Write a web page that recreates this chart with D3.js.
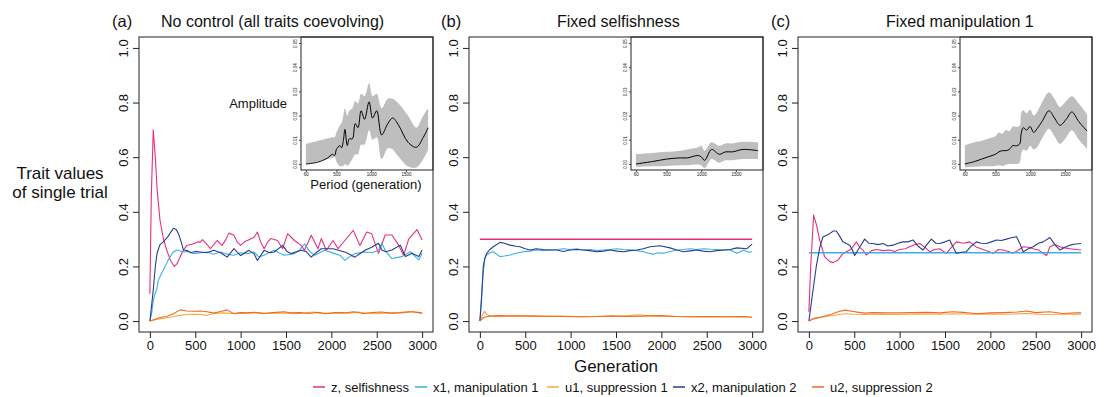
<!DOCTYPE html>
<html>
<head>
<meta charset="utf-8">
<script src="https://cdn.jsdelivr.net/npm/d3@7"></script>
<style>
  body { margin: 0; background: #fff; }
  text { font-family: "Liberation Sans", Arial, sans-serif; fill: #111; }
</style>
</head>
<body>
<script>
// ---- data: [generation, trait value] ----
let seriesNames = ['z, selfishness', 'x1, manipulation 1', 'u1, suppression 1', 'x2, manipulation 2', 'u2, suppression 2'];
let seriesColors = ['#e5307e', '#3caee3', '#f6a944', '#283d8f', '#f06a1f'];
let panelLabels = ['(a)', '(b)', '(c)'];
let panelTitles = ['No control (all traits coevolving)', 'Fixed selfishness', 'Fixed manipulation 1'];
let genTicks = [0, 500, 1000, 1500, 2000, 2500, 3000];
let valTicks = [0, 0.2, 0.4, 0.6, 0.8, 1.0];
let periodTicks = [60, 500, 1000, 1500];
let ampTicks = [0, 0.01, 0.02, 0.03, 0.04, 0.05];

// panel (a)
let aZ = [[0,0.10],[15,0.45],[37,0.70],[60,0.60],[80,0.48],[111,0.37],[150,0.30],[185,0.26],[230,0.22],[270,0.20],[300,0.21],[333,0.235],[370,0.26],[407,0.277],[481,0.283],[530,0.29],[555,0.289],[580,0.298],[630,0.28],[667,0.265],[741,0.295],[796,0.277],[840,0.30],[870,0.322],[926,0.314],[960,0.29],[1000,0.277],[1040,0.29],[1074,0.295],[1148,0.307],[1185,0.326],[1220,0.29],[1259,0.265],[1300,0.29],[1333,0.302],[1407,0.295],[1463,0.265],[1518,0.32],[1593,0.295],[1667,0.277],[1704,0.259],[1778,0.314],[1852,0.265],[1889,0.302],[1944,0.259],[2019,0.295],[2074,0.265],[2148,0.295],[2241,0.332],[2315,0.277],[2389,0.326],[2444,0.32],[2519,0.248],[2593,0.315],[2667,0.315],[2741,0.278],[2796,0.24],[2852,0.30],[2944,0.335],[3000,0.297]];
let aX1 = [[0,0],[20,0.03],[37,0.076],[56,0.10],[74,0.114],[93,0.149],[130,0.176],[148,0.186],[204,0.225],[250,0.25],[296,0.26],[370,0.253],[420,0.255],[481,0.247],[560,0.25],[630,0.253],[700,0.245],[778,0.253],[850,0.245],[926,0.241],[1000,0.25],[1074,0.247],[1148,0.253],[1200,0.235],[1259,0.241],[1310,0.25],[1370,0.259],[1420,0.25],[1481,0.241],[1593,0.247],[1650,0.26],[1704,0.283],[1760,0.255],[1815,0.241],[1926,0.259],[2037,0.247],[2100,0.24],[2148,0.222],[2200,0.235],[2259,0.247],[2370,0.253],[2450,0.25],[2519,0.26],[2556,0.285],[2600,0.255],[2667,0.229],[2778,0.236],[2870,0.254],[2963,0.224],[3000,0.248]];
let aU1 = [[0,0],[50,0.004],[100,0.008],[185,0.012],[259,0.016],[333,0.021],[407,0.024],[481,0.025],[555,0.024],[630,0.021],[704,0.028],[800,0.03],[900,0.028],[1000,0.03],[1100,0.029],[1200,0.031],[1300,0.028],[1400,0.03],[1500,0.029],[1600,0.027],[1700,0.03],[1800,0.033],[1900,0.028],[2000,0.03],[2100,0.031],[2200,0.029],[2300,0.033],[2400,0.028],[2500,0.027],[2600,0.03],[2700,0.029],[2800,0.03],[2900,0.036],[3000,0.027]];
let aX2 = [[0,0],[20,0.06],[37,0.114],[60,0.2],[80,0.25],[111,0.28],[148,0.29],[200,0.31],[259,0.34],[290,0.335],[315,0.32],[345,0.29],[370,0.26],[407,0.259],[450,0.25],[500,0.255],[555,0.253],[630,0.25],[704,0.259],[780,0.25],[852,0.234],[926,0.265],[1000,0.24],[1093,0.259],[1150,0.245],[1185,0.222],[1259,0.259],[1320,0.25],[1370,0.253],[1463,0.277],[1510,0.255],[1556,0.247],[1667,0.259],[1720,0.255],[1778,0.234],[1830,0.25],[1889,0.265],[2019,0.265],[2148,0.253],[2200,0.245],[2259,0.234],[2370,0.259],[2444,0.27],[2519,0.285],[2556,0.26],[2600,0.254],[2667,0.26],[2760,0.278],[2815,0.236],[2889,0.248],[2963,0.236],[3000,0.26]];
let aU2 = [[0,0],[50,0.006],[111,0.013],[185,0.017],[259,0.027],[333,0.041],[407,0.037],[481,0.036],[555,0.037],[630,0.034],[704,0.029],[780,0.035],[852,0.041],[926,0.027],[1000,0.031],[1074,0.03],[1148,0.032],[1250,0.028],[1350,0.031],[1481,0.034],[1550,0.03],[1650,0.031],[1750,0.028],[1850,0.032],[1950,0.027],[2050,0.031],[2150,0.03],[2250,0.034],[2350,0.028],[2450,0.031],[2550,0.033],[2650,0.029],[2750,0.031],[2850,0.034],[2950,0.032],[3000,0.03]];

// panel (b)
let bZ = [[0,0.3],[3000,0.3]];
let bX1 = [[0,0],[18,0.09],[37,0.18],[55,0.23],[74,0.242],[110,0.25],[147,0.254],[221,0.236],[270,0.238],[331,0.242],[400,0.248],[478,0.254],[550,0.256],[625,0.26],[700,0.258],[772,0.26],[850,0.262],[919,0.265],[993,0.262],[1066,0.265],[1140,0.26],[1213,0.262],[1290,0.258],[1360,0.26],[1430,0.262],[1508,0.265],[1580,0.262],[1655,0.26],[1730,0.258],[1802,0.254],[1860,0.248],[1912,0.245],[1960,0.25],[2022,0.248],[2100,0.255],[2169,0.26],[2240,0.262],[2317,0.265],[2390,0.262],[2464,0.265],[2540,0.263],[2611,0.262],[2690,0.26],[2758,0.26],[2833,0.248],[2906,0.26],[2960,0.252],[3000,0.254]];
let bU1 = [[0,0],[25,0.02],[50,0.036],[75,0.026],[110,0.018],[200,0.016],[350,0.019],[500,0.018],[700,0.017],[900,0.018],[1100,0.016],[1300,0.017],[1500,0.018],[1650,0.02],[1750,0.023],[1850,0.02],[2000,0.018],[2200,0.017],[2400,0.016],[2600,0.017],[2800,0.016],[3000,0.015]];
let bX2 = [[0,0],[18,0.077],[37,0.199],[55,0.23],[74,0.248],[110,0.262],[147,0.272],[221,0.288],[270,0.285],[331,0.278],[400,0.274],[441,0.272],[500,0.265],[552,0.26],[620,0.265],[699,0.262],[770,0.26],[846,0.26],[920,0.255],[993,0.26],[1070,0.262],[1140,0.26],[1210,0.258],[1287,0.254],[1360,0.256],[1434,0.26],[1510,0.256],[1582,0.254],[1650,0.258],[1729,0.26],[1800,0.265],[1876,0.272],[1986,0.276],[2096,0.268],[2170,0.26],[2244,0.254],[2320,0.257],[2391,0.26],[2460,0.256],[2538,0.254],[2610,0.258],[2685,0.26],[2760,0.262],[2833,0.268],[2943,0.265],[3000,0.282]];
let bU2 = [[0,0],[30,0.01],[60,0.015],[110,0.018],[200,0.02],[350,0.019],[500,0.019],[700,0.018],[900,0.017],[1100,0.016],[1300,0.017],[1450,0.019],[1600,0.017],[1800,0.018],[2000,0.02],[2150,0.017],[2300,0.016],[2500,0.017],[2700,0.016],[2900,0.017],[3000,0.014]];

// panel (c)
let cZ = [[0,0.034],[20,0.2],[52,0.388],[85,0.35],[118,0.297],[173,0.236],[220,0.22],[265,0.214],[320,0.223],[370,0.245],[412,0.254],[470,0.265],[522,0.29],[560,0.27],[596,0.26],[633,0.242],[690,0.258],[743,0.262],[820,0.258],[890,0.26],[945,0.255],[1000,0.262],[1060,0.265],[1110,0.272],[1170,0.28],[1221,0.284],[1280,0.27],[1331,0.254],[1390,0.262],[1441,0.265],[1515,0.248],[1570,0.27],[1625,0.29],[1700,0.285],[1772,0.29],[1850,0.27],[1920,0.262],[1980,0.255],[2030,0.248],[2090,0.262],[2140,0.26],[2200,0.255],[2251,0.248],[2310,0.26],[2361,0.272],[2420,0.27],[2471,0.265],[2530,0.26],[2582,0.248],[2620,0.24],[2656,0.272],[2710,0.28],[2767,0.272],[2820,0.268],[2877,0.265],[2940,0.262],[3000,0.26]];
let cX1 = [[0,0.25],[3000,0.25]];
let cU1 = [[0,0],[50,0.01],[150,0.015],[300,0.022],[400,0.027],[500,0.025],[650,0.024],[800,0.025],[1000,0.024],[1200,0.026],[1400,0.025],[1600,0.027],[1800,0.025],[2000,0.026],[2200,0.025],[2400,0.028],[2600,0.024],[2800,0.025],[3000,0.025]];
let cX2 = [[0,0],[40,0.1],[81,0.199],[120,0.27],[155,0.308],[228,0.32],[270,0.33],[302,0.33],[340,0.31],[375,0.29],[449,0.278],[480,0.26],[504,0.24],[560,0.27],[614,0.3],[660,0.285],[706,0.284],[760,0.28],[817,0.284],[870,0.275],[927,0.278],[980,0.285],[1037,0.29],[1090,0.29],[1147,0.297],[1200,0.275],[1258,0.26],[1300,0.28],[1350,0.3],[1400,0.285],[1441,0.284],[1500,0.29],[1552,0.297],[1590,0.27],[1625,0.248],[1680,0.252],[1736,0.254],[1790,0.275],[1846,0.29],[1900,0.285],[1957,0.284],[2010,0.29],[2067,0.297],[2120,0.295],[2177,0.3],[2230,0.305],[2288,0.309],[2330,0.28],[2361,0.254],[2420,0.265],[2471,0.272],[2530,0.285],[2582,0.29],[2656,0.306],[2710,0.28],[2767,0.26],[2820,0.27],[2877,0.278],[2940,0.282],[3000,0.284]];
let cU2 = [[0,0],[50,0.008],[150,0.016],[250,0.025],[330,0.035],[400,0.04],[470,0.036],[550,0.032],[620,0.029],[700,0.031],[850,0.03],[1000,0.03],[1150,0.031],[1300,0.032],[1450,0.03],[1580,0.034],[1700,0.032],[1850,0.027],[2000,0.03],[2150,0.031],[2300,0.033],[2400,0.037],[2500,0.031],[2650,0.034],[2800,0.028],[2950,0.03],[3000,0.03]];

// insets: amplitude spectrum, mean and band
let aPeriod = [60,225,370,440,475,500,550,575,600,622,657,685,730,770,810,855,905,970,1020,1080,1150,1240,1310,1395,1530,1650,1750,1820];
let aMean   = [0,0.0007,0.0024,0.004,0.0035,0.006,0.0076,0.0067,0.0097,0.0143,0.0076,0.0104,0.0104,0.0167,0.015,0.022,0.0185,0.0257,0.019,0.022,0.012,0.0167,0.019,0.016,0.009,0.0069,0.011,0.015];
let aLower  = [0,0.001,0.002,0.0025,0.003,0.001,-0.001,-0.001,-0.0007,0,-0.0007,0,0.002,0.004,0.004,0.008,0.008,0.014,0.01,0.011,0.002,0.0065,0.006,0.003,-0.001,-0.0015,0.002,0.006];
let aUpper  = [0.0083,0.0095,0.0105,0.011,0.011,0.013,0.016,0.017,0.02,0.023,0.02,0.022,0.023,0.026,0.025,0.029,0.028,0.0335,0.028,0.029,0.023,0.027,0.027,0.025,0.02,0.015,0.02,0.023];

let bPeriod = [60,300,500,700,800,950,1000,1050,1150,1260,1350,1450,1600,1820];
let bMean   = [0,0.001,0.002,0.0025,0.0025,0.0035,0.003,0.0015,0.006,0.004,0.005,0.005,0.006,0.0055];
let bLower  = [-0.0012,-0.001,-0.0008,-0.0005,-0.0005,-0.0002,-0.0005,-0.0018,0.002,0.0005,0.0015,0.0015,0.002,0.002];
let bUpper  = [0.004,0.0045,0.005,0.0055,0.006,0.0068,0.0075,0.0055,0.009,0.0075,0.0085,0.0085,0.0092,0.009];

let cPeriod = [60,200,300,400,500,550,600,650,700,750,800,850,870,900,950,1000,1050,1100,1180,1270,1350,1430,1520,1600,1700,1820];
let cMean   = [0,0.001,0.002,0.003,0.004,0.005,0.0055,0.0055,0.006,0.0076,0.0075,0.0083,0.0125,0.015,0.014,0.0155,0.013,0.0146,0.018,0.022,0.019,0.016,0.0185,0.0215,0.0175,0.0136];
let cLower  = [-0.0014,-0.0012,-0.001,-0.001,-0.0008,-0.0005,-0.0008,-0.0003,0,0,0,0.0005,0.004,0.006,0.0055,0.0075,0.006,0.0069,0.011,0.0146,0.0115,0.0083,0.011,0.0139,0.01,0.0062];
let cUpper  = [0.0077,0.009,0.0095,0.0105,0.0115,0.013,0.0125,0.014,0.0135,0.0155,0.0153,0.0158,0.021,0.0222,0.021,0.0225,0.02,0.0215,0.026,0.0297,0.027,0.0236,0.026,0.028,0.025,0.0205];

let panelSeries = [[aZ, aX1, aU1, aX2, aU2], [bZ, bX1, bU1, bX2, bU2], [cZ, cX1, cU1, cX2, cU2]];
let insetData = [[aPeriod, aMean, aLower, aUpper], [bPeriod, bMean, bLower, bUpper], [cPeriod, cMean, cLower, cUpper]];

// ---- layout ----
let width = 1107;
let height = 397;
let panelLeft = [139, 469, 798];
let labelX = [112, 441, 771];
let titleX = [161, 557, 886];
let boxW = 294, boxTop = 37, boxBottom = 332;
let insetOffset = 162, insetBottom = 170;

let svg = d3.select("body").append("svg")
  .attr("width", width)
  .attr("height", height);

function drawPanel(i) {
  let left = panelLeft[i];
  let x = d3.scaleLinear().domain([-120, 3120]).range([left, left + boxW]);
  let y = d3.scaleLinear().domain([-0.04, 1.04]).range([boxBottom, boxTop]);
  let g = svg.append('g');

  let line = d3.line().x(d => x(d[0])).y(d => y(d[1]));
  panelSeries[i].forEach((s, k) => {
    g.append('path')
      .attr('d', line(s))
      .attr('fill', 'none')
      .attr('stroke', seriesColors[k])
      .attr('stroke-width', s.length == 2 ? 1.5 : 1.1)
      .attr('stroke-linejoin', 'round');
  });

  // x axis
  let xa = g.append('g')
    .attr('transform', 'translate(0,' + boxBottom + ')')
    .call(d3.axisBottom(x).tickValues(genTicks).tickSize(6).tickPadding(3).tickFormat(d3.format('d')));
  xa.select('.domain').remove();
  xa.selectAll('line').attr('stroke', '#222');
  xa.selectAll('text').attr('font-size', 13).attr('font-family', null);

  // y axis, rotated labels
  let ya = g.append('g')
    .attr('transform', 'translate(' + left + ',0)')
    .call(d3.axisLeft(y).tickValues(valTicks).tickSize(6).tickFormat(d3.format('.1f')));
  ya.select('.domain').remove();
  ya.selectAll('line').attr('stroke', '#222');
  ya.selectAll('text')
    .attr('font-size', 13).attr('font-family', null)
    .attr('transform', 'rotate(-90)')
    .attr('x', 0).attr('y', -11).attr('dy', 0)
    .attr('text-anchor', 'middle');

  // inset
  let il = left + insetOffset, ir = left + boxW;
  let ix = d3.scaleLinear().domain([-10, 1890]).range([il, ir]);
  let iy = d3.scaleLinear().domain([-0.0025, 0.0525]).range([insetBottom, boxTop]);
  let [per, mean, lo, hi] = insetData[i];
  let pts = per.map((p, j) => ({p: p, m: mean[j], lo: lo[j], hi: hi[j]}));

  g.append('rect')
    .attr('x', il).attr('y', boxTop)
    .attr('width', ir - il).attr('height', insetBottom - boxTop)
    .attr('fill', '#fff');
  g.append('path')
    .attr('d', d3.area().curve(d3.curveCatmullRom).x(d => ix(d.p)).y0(d => iy(d.lo)).y1(d => iy(d.hi))(pts))
    .attr('fill', '#bebebe');
  g.append('path')
    .attr('d', d3.line().curve(d3.curveCatmullRom).x(d => ix(d.p)).y(d => iy(d.m))(pts))
    .attr('fill', 'none').attr('stroke', '#000').attr('stroke-width', 1);
  g.append('rect')
    .attr('x', il).attr('y', boxTop)
    .attr('width', ir - il).attr('height', insetBottom - boxTop)
    .attr('fill', 'none').attr('stroke', '#222');

  let ixa = g.append('g')
    .attr('transform', 'translate(0,' + insetBottom + ')')
    .call(d3.axisBottom(ix).tickValues(periodTicks).tickSize(2).tickPadding(1).tickFormat(d3.format('d')));
  ixa.select('.domain').remove();
  ixa.selectAll('line').attr('stroke', '#444');
  ixa.selectAll('text').attr('font-size', 4.5).attr('font-family', null).attr('fill', '#444');

  let iya = g.append('g')
    .attr('transform', 'translate(' + il + ',0)')
    .call(d3.axisLeft(iy).tickValues(ampTicks).tickSize(2).tickFormat(d3.format('.2f')));
  iya.select('.domain').remove();
  iya.selectAll('line').attr('stroke', '#444');
  iya.selectAll('text')
    .attr('font-size', 4.5).attr('font-family', null).attr('fill', '#444')
    .attr('transform', 'rotate(-90)')
    .attr('x', 0).attr('y', -4).attr('dy', 0)
    .attr('text-anchor', 'middle');

  // main box
  g.append('rect')
    .attr('x', left).attr('y', boxTop)
    .attr('width', boxW).attr('height', boxBottom - boxTop)
    .attr('fill', 'none').attr('stroke', '#222');

  // titles
  svg.append('text').attr('x', labelX[i]).attr('y', 27).attr('font-size', 16.5).text(panelLabels[i]);
  svg.append('text').attr('x', titleX[i]).attr('y', 27).attr('font-size', 16).text(panelTitles[i]);
}

[0, 1, 2].forEach(drawPanel);

// inset labels (panel a only)
svg.append('text').attr('x', 287).attr('y', 108).attr('font-size', 13)
  .attr('text-anchor', 'end').text('Amplitude');
svg.append('text').attr('x', 366).attr('y', 189).attr('font-size', 13)
  .attr('text-anchor', 'middle').text('Period (generation)');

// axis titles
svg.append('text').attr('x', 60).attr('y', 179).attr('font-size', 17)
  .attr('text-anchor', 'middle').text('Trait values');
svg.append('text').attr('x', 60).attr('y', 198).attr('font-size', 17)
  .attr('text-anchor', 'middle').text('of single trial');
svg.append('text').attr('x', 616).attr('y', 372).attr('font-size', 17)
  .attr('text-anchor', 'middle').text('Generation');

// legend
let legendX = [313, 415, 547, 673, 812];
let legend = svg.append('g');
seriesNames.forEach((name, k) => {
  legend.append('line')
    .attr('x1', legendX[k]).attr('x2', legendX[k] + 12)
    .attr('y1', 387).attr('y2', 387)
    .attr('stroke', seriesColors[k]).attr('stroke-width', 1.5);
  legend.append('text')
    .attr('x', legendX[k] + 18).attr('y', 391.5)
    .attr('font-size', 13).text(name);
});
</script>
</body>
</html>
